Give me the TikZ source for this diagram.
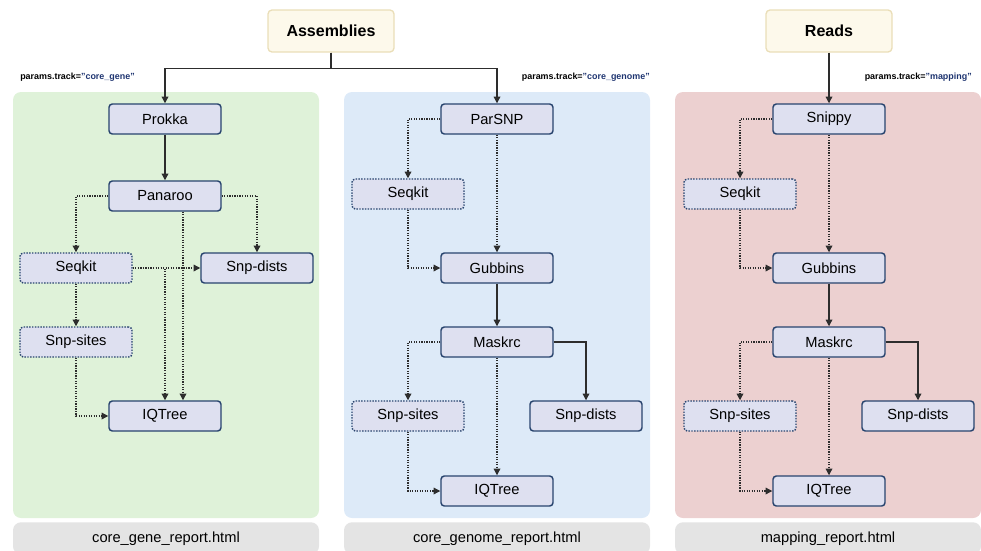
\documentclass[tikz,border=0pt]{standalone}
\usepackage{fontspec}
\setmainfont{Liberation Sans}
\usetikzlibrary{arrows.meta}
\definecolor{panelgreen}{RGB}{223,242,217}
\definecolor{panelblue}{RGB}{221,234,248}
\definecolor{panelred}{RGB}{236,208,208}
\definecolor{reportgray}{RGB}{228,228,228}
\definecolor{procfill}{RGB}{222,224,240}
\definecolor{procline}{RGB}{40,68,110}
\definecolor{inputfill}{RGB}{253,249,235}
\definecolor{inputline}{RGB}{234,222,184}
\definecolor{paramblue}{RGB}{30,52,112}
\definecolor{linegray}{RGB}{45,45,45}
\tikzset{
  proc/.style={rectangle,rounded corners=2.5pt,draw=procline,fill=procfill,line width=1.1pt,
               minimum width=84pt,minimum height=22.5pt,inner sep=0pt,font=\fontsize{11}{13}\selectfont},
  optproc/.style={proc,densely dotted},
  input/.style={rectangle,rounded corners=3pt,draw=inputline,fill=inputfill,line width=1pt,
                minimum width=94.5pt,minimum height=31.5pt,inner sep=0pt,font=\fontsize{12}{14}\selectfont\bfseries},
  report/.style={rectangle,rounded corners=6pt,fill=reportgray,minimum width=229.5pt,minimum height=24pt,
                 inner sep=0pt,anchor=north,font=\fontsize{11}{13}\selectfont},
  param/.style={inner sep=0pt,font=\fontsize{6.7}{8}\selectfont\bfseries},
  flow/.style={draw=linegray,line width=0.9pt,-{Triangle[length=5pt,width=5pt]}},
  opt/.style={flow,densely dotted},
}
\begin{document}
\begin{tikzpicture}[x=0.75pt,y=-0.75pt]
  \useasboundingbox (0,0) rectangle (981,550);
  % three track panels, each with its report underneath
  \foreach \x/\col/\rep in {13/panelgreen/core\_gene\_report.html,344/panelblue/core\_genome\_report.html,675/panelred/mapping\_report.html}{
    \fill[\col,rounded corners=6pt] (\x,92) rectangle ++(306,426);
    \node[report] (rep\x) at (\x+153,522){\rep};
  }

  % inputs
  \node[input] (asm) at (331,31){Assemblies};
  \node[input] (reads) at (829,31){Reads};
  \node[param,anchor=west] (pgene) at (20,77){params.track=\textcolor{paramblue}{"core\_gene"}};
  \node[param,anchor=east] (pgenome) at (650,77){params.track=\textcolor{paramblue}{"core\_genome"}};
  \node[param,anchor=east] (pmap) at (972,77){params.track=\textcolor{paramblue}{"mapping"}};

  % core_gene track
  \node[proc] (prokka) at (165,119){Prokka};
  \node[proc] (panaroo) at (165,196){Panaroo};
  \node[optproc] (seqkit) at (76,268){Seqkit};
  \node[proc] (dists) at (257,268){Snp-dists};
  \node[optproc] (sites) at (76,342){Snp-sites};
  \node[proc] (tree) at (165,416){IQTree};

  \draw[flow] (asm.south) -- ++(0,16) -| (prokka.north);
  \draw[flow] (prokka) -- (panaroo);
  \draw[opt] (panaroo.west) -| (seqkit.north);
  \draw[opt] (panaroo.east) -| (dists.north);
  \draw[opt] ([xshift=13.5pt]panaroo.south) -- ([xshift=13.5pt]tree.north);
  \draw[opt] (seqkit.east) -- (dists.west);
  \draw[opt] (seqkit.east) -| (tree.north);
  \draw[opt] (seqkit) -- (sites);
  \draw[opt] (sites.south) |- (tree.west);

  % core_genome and mapping tracks share the same layout
  \foreach \p/\dx/\first in {g/0/ParSNP,m/332/Snippy}{
    \node[proc] (\p-first) at (497+\dx,119){\first};
    \node[optproc] (\p-seqkit) at (408+\dx,194){Seqkit};
    \node[proc] (\p-gubbins) at (497+\dx,268){Gubbins};
    \node[proc] (\p-maskrc) at (497+\dx,342){Maskrc};
    \node[optproc] (\p-sites) at (408+\dx,416){Snp-sites};
    \node[proc] (\p-dists) at (586+\dx,416){Snp-dists};
    \node[proc] (\p-tree) at (497+\dx,491){IQTree};

    \draw[opt] (\p-first.west) -| (\p-seqkit.north);
    \draw[opt] (\p-first.south) -- (\p-gubbins.north);
    \draw[opt] (\p-seqkit.south) |- (\p-gubbins.west);
    \draw[flow] (\p-gubbins.south) -- (\p-maskrc.north);
    \draw[opt] (\p-maskrc.west) -| (\p-sites.north);
    \draw[flow] (\p-maskrc.east) -| (\p-dists.north);
    \draw[opt] (\p-maskrc.south) -- (\p-tree.north);
    \draw[opt] (\p-sites.south) |- (\p-tree.west);
  }
  \draw[flow] (asm.south) -- ++(0,16) -| (g-first.north);
  \draw[flow] (reads.south) -- (m-first.north);
\end{tikzpicture}
\end{document}
